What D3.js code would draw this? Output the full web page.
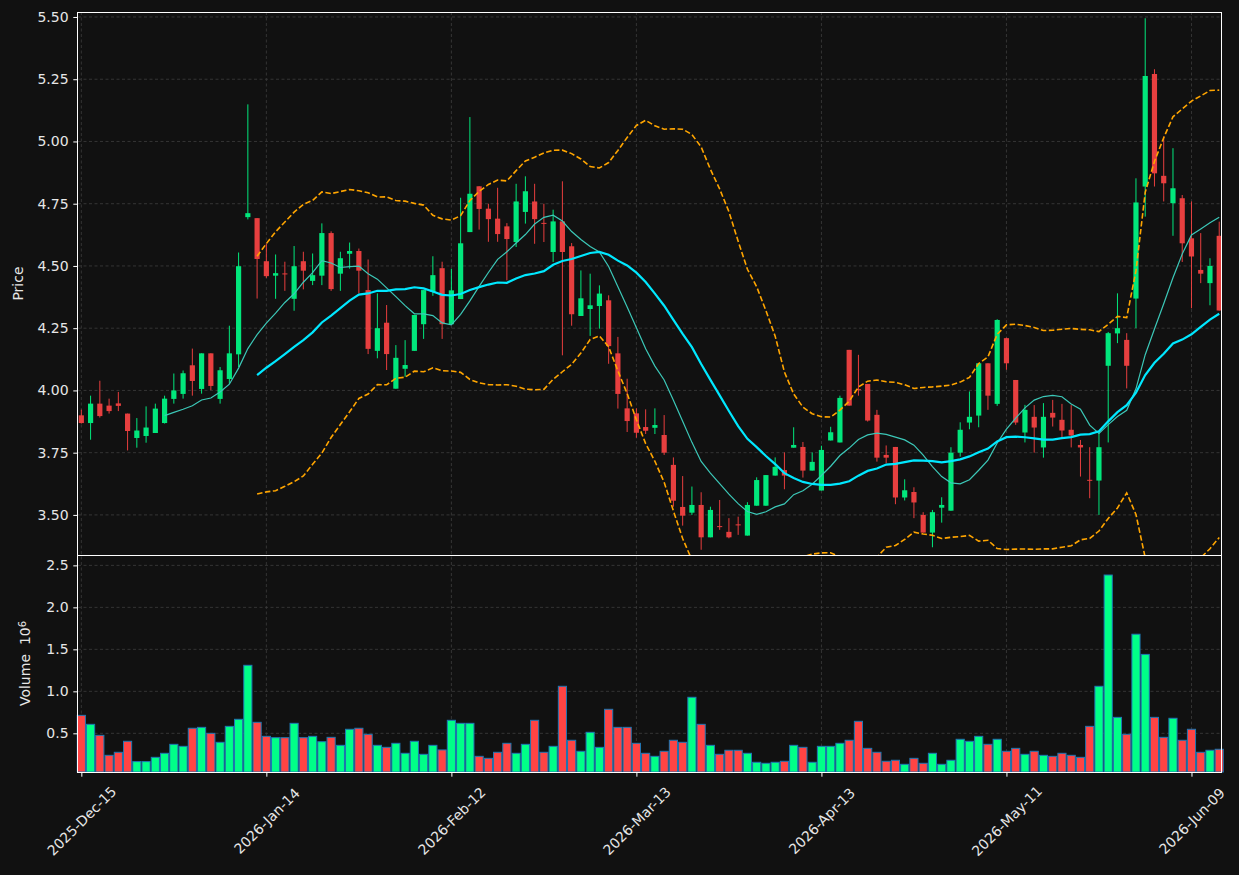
<!DOCTYPE html>
<html>
<head>
<meta charset="utf-8">
<script src="https://cdn.jsdelivr.net/npm/d3@7"></script>
<style>
    body { margin: 0; background: #111111; }
    svg { display: block; font-family: "DejaVu Sans", sans-serif; }
</style>
</head>
<body>
<svg id="drawing_region"></svg>
<script>
const dates = [
    "2025-12-15", "2025-12-16", "2025-12-17", "2025-12-18", "2025-12-19", "2025-12-22", "2025-12-23", "2025-12-24", "2025-12-26", "2025-12-29",
    "2025-12-30", "2025-12-31", "2026-01-02", "2026-01-05", "2026-01-06", "2026-01-07", "2026-01-08", "2026-01-09", "2026-01-12", "2026-01-13",
    "2026-01-14", "2026-01-15", "2026-01-16", "2026-01-20", "2026-01-21", "2026-01-22", "2026-01-23", "2026-01-26", "2026-01-27", "2026-01-28",
    "2026-01-29", "2026-01-30", "2026-02-02", "2026-02-03", "2026-02-04", "2026-02-05", "2026-02-06", "2026-02-09", "2026-02-10", "2026-02-11",
    "2026-02-12", "2026-02-13", "2026-02-17", "2026-02-18", "2026-02-19", "2026-02-20", "2026-02-23", "2026-02-24", "2026-02-25", "2026-02-26",
    "2026-02-27", "2026-03-02", "2026-03-03", "2026-03-04", "2026-03-05", "2026-03-06", "2026-03-09", "2026-03-10", "2026-03-11", "2026-03-12",
    "2026-03-13", "2026-03-16", "2026-03-17", "2026-03-18", "2026-03-19", "2026-03-20", "2026-03-23", "2026-03-24", "2026-03-25", "2026-03-26",
    "2026-03-27", "2026-03-30", "2026-03-31", "2026-04-01", "2026-04-02", "2026-04-06", "2026-04-07", "2026-04-08", "2026-04-09", "2026-04-10",
    "2026-04-13", "2026-04-14", "2026-04-15", "2026-04-16", "2026-04-17", "2026-04-20", "2026-04-21", "2026-04-22", "2026-04-23", "2026-04-24",
    "2026-04-27", "2026-04-28", "2026-04-29", "2026-04-30", "2026-05-01", "2026-05-04", "2026-05-05", "2026-05-06", "2026-05-07", "2026-05-08",
    "2026-05-11", "2026-05-12", "2026-05-13", "2026-05-14", "2026-05-15", "2026-05-18", "2026-05-19", "2026-05-20", "2026-05-21", "2026-05-22",
    "2026-05-26", "2026-05-27", "2026-05-28", "2026-05-29", "2026-06-01", "2026-06-02", "2026-06-03", "2026-06-04", "2026-06-05", "2026-06-08",
    "2026-06-09", "2026-06-10", "2026-06-11", "2026-06-12"
];

const opens = [
    3.900, 3.869, 3.947, 3.939, 3.948, 3.907, 3.809, 3.817, 3.829, 3.869,
    3.966, 3.986, 4.101, 4.006, 4.149, 3.966, 4.046, 4.145, 4.696, 4.692,
    4.519, 4.461, 4.470, 4.368, 4.519, 4.440, 4.461, 4.632, 4.469, 4.549,
    4.560, 4.403, 4.159, 4.272, 4.007, 4.087, 4.159, 4.266, 4.396, 4.491,
    4.266, 4.367, 4.636, 4.820, 4.730, 4.690, 4.659, 4.596, 4.717, 4.759,
    4.673, 4.556, 4.679, 4.579, 4.299, 4.327, 4.339, 4.362, 4.149, 3.928,
    3.908, 3.853, 3.850, 3.821, 3.701, 3.532, 3.509, 3.540, 3.410, 3.455,
    3.432, 3.462, 3.417, 3.537, 3.537, 3.658, 3.680, 3.770, 3.773, 3.678,
    3.598, 3.799, 3.791, 4.163, 4.005, 4.026, 3.902, 3.741, 3.773, 3.570,
    3.592, 3.500, 3.429, 3.529, 3.517, 3.750, 3.871, 3.899, 4.109, 3.946,
    4.210, 4.042, 3.831, 3.894, 3.771, 3.910, 3.882, 3.842, 3.781, 3.641,
    3.638, 4.099, 4.229, 4.203, 4.369, 4.819, 5.271, 4.862, 4.752, 4.772,
    4.611, 4.484, 4.431, 4.621
];

const highs = [
    3.923, 3.979, 4.039, 3.967, 3.994, 3.907, 3.889, 3.936, 3.947, 3.979,
    4.068, 4.080, 4.168, 4.149, 4.149, 4.094, 4.260, 4.554, 5.149, 4.692,
    4.590, 4.546, 4.517, 4.580, 4.557, 4.550, 4.671, 4.639, 4.557, 4.594,
    4.570, 4.526, 4.390, 4.343, 4.182, 4.202, 4.303, 4.403, 4.539, 4.517,
    4.489, 4.774, 5.098, 4.820, 4.750, 4.814, 4.672, 4.830, 4.860, 4.830,
    4.750, 4.726, 4.840, 4.592, 4.482, 4.469, 4.422, 4.382, 4.215, 4.047,
    3.928, 3.924, 3.928, 3.901, 3.731, 3.656, 3.614, 3.591, 3.533, 3.560,
    3.487, 3.493, 3.551, 3.651, 3.660, 3.731, 3.751, 3.852, 3.793, 3.751,
    3.778, 3.854, 3.979, 4.163, 4.143, 4.026, 3.922, 3.779, 3.773, 3.643,
    3.611, 3.511, 3.520, 3.571, 3.772, 3.872, 3.996, 4.109, 4.109, 4.286,
    4.212, 4.042, 3.942, 3.941, 3.949, 3.962, 3.946, 3.941, 3.801, 3.772,
    3.831, 4.235, 4.390, 4.230, 4.852, 5.495, 5.290, 5.020, 4.973, 4.785,
    4.759, 4.632, 4.531, 4.678
];

const lows = [
    3.867, 3.802, 3.891, 3.907, 3.917, 3.759, 3.770, 3.790, 3.829, 3.867,
    3.947, 3.967, 3.979, 3.987, 4.001, 3.947, 4.027, 4.094, 4.687, 4.369,
    4.452, 4.368, 4.400, 4.320, 4.406, 4.423, 4.423, 4.400, 4.400, 4.489,
    4.390, 4.146, 4.129, 4.082, 4.007, 4.055, 4.159, 4.207, 4.380, 4.207,
    4.265, 4.367, 4.636, 4.646, 4.597, 4.597, 4.442, 4.576, 4.670, 4.589,
    4.596, 4.516, 4.141, 4.260, 4.299, 4.219, 4.248, 4.107, 3.927, 3.833,
    3.810, 3.825, 3.825, 3.741, 3.533, 3.457, 3.500, 3.360, 3.410, 3.440,
    3.406, 3.420, 3.417, 3.537, 3.537, 3.658, 3.603, 3.770, 3.650, 3.678,
    3.598, 3.799, 3.791, 3.939, 3.979, 3.875, 3.714, 3.708, 3.543, 3.558,
    3.487, 3.429, 3.370, 3.469, 3.517, 3.734, 3.844, 3.852, 3.922, 3.938,
    4.083, 3.862, 3.791, 3.750, 3.730, 3.855, 3.811, 3.771, 3.654, 3.567,
    3.500, 3.791, 4.190, 4.008, 4.250, 4.698, 4.819, 4.759, 4.621, 4.516,
    4.330, 4.431, 4.342, 4.321
];

const closes = [
    3.869, 3.947, 3.897, 3.917, 3.938, 3.837, 3.839, 3.851, 3.927, 3.967,
    4.000, 4.069, 4.038, 4.149, 4.018, 4.081, 4.149, 4.499, 4.712, 4.528,
    4.459, 4.471, 4.467, 4.499, 4.481, 4.463, 4.632, 4.407, 4.531, 4.560,
    4.481, 4.167, 4.250, 4.146, 4.131, 4.102, 4.303, 4.403, 4.463, 4.266,
    4.402, 4.591, 4.790, 4.729, 4.688, 4.628, 4.608, 4.759, 4.800, 4.688,
    4.670, 4.679, 4.556, 4.306, 4.370, 4.342, 4.389, 4.178, 3.986, 3.877,
    3.830, 3.838, 3.861, 3.750, 3.557, 3.497, 3.540, 3.410, 3.520, 3.451,
    3.410, 3.459, 3.540, 3.640, 3.660, 3.693, 3.658, 3.781, 3.678, 3.713,
    3.761, 3.832, 3.970, 3.939, 4.002, 3.879, 3.730, 3.730, 3.570, 3.599,
    3.550, 3.429, 3.511, 3.540, 3.750, 3.842, 3.894, 4.109, 3.979, 4.283,
    4.109, 3.871, 3.922, 3.851, 3.894, 3.891, 3.839, 3.819, 3.771, 3.638,
    3.772, 4.230, 4.250, 4.099, 4.755, 5.263, 4.872, 4.832, 4.812, 4.591,
    4.538, 4.469, 4.500, 4.321
];

// volume in millions
const volumes = [
    0.714, 0.607, 0.476, 0.238, 0.274, 0.405, 0.163, 0.163, 0.214, 0.262,
    0.369, 0.345, 0.560, 0.571, 0.500, 0.393, 0.583, 0.667, 1.310, 0.631,
    0.464, 0.448, 0.448, 0.619, 0.448, 0.464, 0.400, 0.452, 0.357, 0.548,
    0.560, 0.488, 0.357, 0.333, 0.381, 0.262, 0.405, 0.250, 0.357, 0.302,
    0.655, 0.619, 0.619, 0.226, 0.202, 0.274, 0.381, 0.262, 0.369, 0.655,
    0.274, 0.345, 1.060, 0.417, 0.286, 0.512, 0.333, 0.786, 0.571, 0.571,
    0.381, 0.262, 0.226, 0.286, 0.417, 0.393, 0.929, 0.607, 0.357, 0.250,
    0.298, 0.298, 0.262, 0.155, 0.143, 0.155, 0.167, 0.357, 0.333, 0.155,
    0.345, 0.345, 0.381, 0.417, 0.643, 0.321, 0.274, 0.167, 0.179, 0.131,
    0.202, 0.143, 0.262, 0.131, 0.179, 0.429, 0.405, 0.464, 0.369, 0.429,
    0.286, 0.321, 0.250, 0.286, 0.238, 0.226, 0.262, 0.238, 0.214, 0.583,
    1.060, 2.385, 0.690, 0.488, 1.680, 1.440, 0.690, 0.452, 0.679, 0.417,
    0.548, 0.274, 0.298, 0.310
];

const priceTicks = [3.50, 3.75, 4.00, 4.25, 4.50, 4.75, 5.00, 5.25, 5.50];
const volumeTicks = [0.5, 1.0, 1.5, 2.0, 2.5];
const xTickIndex = [0, 20, 40, 60, 80, 100, 120];

const config = {
    parent: '#drawing_region',
    width: 1239,
    height: 875,
    margin: { top: 12, right: 17, bottom: 103, left: 78 },
    main_height: 543,
    price_domain: [3.339, 5.52],
    ma_short: 10,
    ma_long: 20,
    band_k: 2
};

class CandleChart {

    constructor(config) {
        this.config = config;
        this.data = dates.map((d, i) => ({
            i: i, date: d, open: opens[i], high: highs[i], low: lows[i], close: closes[i], volume: volumes[i]
        }));
        this.init();
    }

    init() {
        let self = this;
        const c = self.config;

        self.svg = d3.select(c.parent)
            .attr('width', c.width)
            .attr('height', c.height);

        self.left = c.margin.left;
        self.right = c.width - c.margin.right;
        self.top = c.margin.top;
        self.mid = c.margin.top + c.main_height;
        self.bottom = c.height - c.margin.bottom;

        self.xscale = d3.scaleLinear()
            .domain([-0.36, self.data.length - 0.7])
            .range([self.left, self.right]);
        self.step = self.xscale(1) - self.xscale(0);

        self.yscale = d3.scaleLinear()
            .domain(c.price_domain)
            .range([self.mid, self.top]);

        const vmin = d3.min(self.data, d => d.volume);
        const vmax = d3.max(self.data, d => d.volume);
        self.vscale = d3.scaleLinear()
            .domain([0.3 * vmin, 1.1 * vmax])
            .range([self.bottom, self.mid]);

        self.svg.append('defs').append('clipPath')
            .attr('id', 'clip-main')
            .append('rect')
            .attr('x', self.left).attr('y', self.top)
            .attr('width', self.right - self.left).attr('height', self.mid - self.top);
    }

    update() {
        let self = this;
        const c = self.config;
        const rolling = (n, fn) => self.data.map((d, i) => {
            if (i < n - 1) return null;
            return fn(closes.slice(i - n + 1, i + 1));
        });
        self.maShort = rolling(c.ma_short, w => d3.mean(w));
        self.maLong = rolling(c.ma_long, w => d3.mean(w));
        // population std for the bands
        const sd = rolling(c.ma_long, w => d3.deviation(w) * Math.sqrt((w.length - 1) / w.length));
        self.upper = self.maLong.map((m, i) => m === null ? null : m + c.band_k * sd[i]);
        self.lower = self.maLong.map((m, i) => m === null ? null : m - c.band_k * sd[i]);
        self.render();
    }

    render() {
        let self = this;
        const up = '#00ff88', down = '#ff4444';
        const gridColor = '#3d3d3d';
        const textColor = '#e6e6e6';

        // grid
        const grid = self.svg.append('g')
            .attr('stroke', gridColor)
            .attr('stroke-width', 0.8)
            .attr('stroke-dasharray', '3,2.5');
        grid.selectAll('.gx')
            .data(xTickIndex)
            .join('line')
            .attr('x1', d => self.xscale(d)).attr('x2', d => self.xscale(d))
            .attr('y1', self.top).attr('y2', self.bottom);
        grid.selectAll('.gy')
            .data(priceTicks)
            .join('line')
            .attr('x1', self.left).attr('x2', self.right)
            .attr('y1', d => self.yscale(d)).attr('y2', d => self.yscale(d));
        grid.selectAll('.gv')
            .data(volumeTicks)
            .join('line')
            .attr('x1', self.left).attr('x2', self.right)
            .attr('y1', d => self.vscale(d)).attr('y2', d => self.vscale(d));

        // candles
        const candles = self.svg.append('g')
            .attr('clip-path', 'url(#clip-main)')
            .attr('opacity', 0.9);
        const bodyW = self.step * 0.56;

        candles.selectAll('line')
            .data(self.data)
            .join('line')
            .attr('x1', d => self.xscale(d.i)).attr('x2', d => self.xscale(d.i))
            .attr('y1', d => self.yscale(d.high)).attr('y2', d => self.yscale(d.low))
            .attr('stroke', d => d.close >= d.open ? up : down)
            .attr('stroke-width', 1);

        candles.selectAll('rect')
            .data(self.data)
            .join('rect')
            .attr('x', d => self.xscale(d.i) - bodyW / 2)
            .attr('width', bodyW)
            .attr('y', d => self.yscale(Math.max(d.open, d.close)))
            .attr('height', d => Math.max(1, Math.abs(self.yscale(d.open) - self.yscale(d.close))))
            .attr('fill', d => d.close >= d.open ? up : down);

        // moving averages and bands
        const lines = self.svg.append('g')
            .attr('clip-path', 'url(#clip-main)')
            .attr('fill', 'none');
        const lineGen = d3.line()
            .defined(d => d !== null)
            .x((d, i) => self.xscale(i))
            .y(d => self.yscale(d));

        lines.append('path')
            .attr('d', lineGen(self.maShort))
            .attr('stroke', '#3cc8b8')
            .attr('stroke-width', 1.2);
        lines.append('path')
            .attr('d', lineGen(self.maLong))
            .attr('stroke', '#00e8ff')
            .attr('stroke-width', 2.2);
        [self.upper, self.lower].forEach(band => {
            lines.append('path')
                .attr('d', lineGen(band))
                .attr('stroke', '#ffa500')
                .attr('stroke-width', 1.6)
                .attr('stroke-dasharray', '5.5,2.5');
        });

        // volume
        const volW = self.step * 0.88;
        self.svg.append('g')
            .selectAll('rect')
            .data(self.data)
            .join('rect')
            .attr('x', d => self.xscale(d.i) - volW / 2)
            .attr('width', volW)
            .attr('y', d => self.vscale(d.volume))
            .attr('height', d => self.bottom - self.vscale(d.volume))
            .attr('fill', d => d.close >= d.open ? up : down)
            .attr('stroke', '#1f77b4')
            .attr('stroke-width', 1);

        // frames
        const frame = self.svg.append('g')
            .attr('fill', 'none')
            .attr('stroke', '#ffffff')
            .attr('stroke-width', 1)
            .attr('shape-rendering', 'crispEdges');
        frame.append('rect')
            .attr('x', self.left - 0.5).attr('y', self.top)
            .attr('width', self.right - self.left).attr('height', self.mid - self.top);
        frame.append('rect')
            .attr('x', self.left - 0.5).attr('y', self.mid)
            .attr('width', self.right - self.left).attr('height', self.bottom - self.mid);

        // axes
        const styleAxis = g => {
            g.select('.domain').remove();
            g.selectAll('.tick line').attr('stroke', '#ffffff');
            g.selectAll('.tick text')
                .attr('fill', textColor)
                .style('font-size', '14px')
                .style('font-family', '"DejaVu Sans", sans-serif');
        };

        self.svg.append('g')
            .attr('transform', `translate(${self.left}, 0)`)
            .call(d3.axisLeft(self.yscale).tickValues(priceTicks).tickFormat(d3.format('.2f')).tickSize(4.7).tickPadding(4.7))
            .call(styleAxis);

        self.svg.append('g')
            .attr('transform', `translate(${self.left}, 0)`)
            .call(d3.axisLeft(self.vscale).tickValues(volumeTicks).tickFormat(d3.format('.1f')).tickSize(4.7).tickPadding(4.7))
            .call(styleAxis);

        const parse = d3.timeParse('%Y-%m-%d');
        const fmt = d3.timeFormat('%Y-%b-%d');
        self.svg.append('g')
            .attr('transform', `translate(0, ${self.bottom})`)
            .call(d3.axisBottom(self.xscale).tickValues(xTickIndex).tickFormat(i => fmt(parse(dates[i]))).tickSize(4.7))
            .call(styleAxis)
            .selectAll('.tick text')
            .attr('x', 0).attr('y', 0).attr('dy', '0.35em')
            .attr('text-anchor', 'middle')
            .attr('transform', 'translate(0, 49) rotate(-45)');

        // axis labels
        self.svg.append('text')
            .attr('transform', `translate(23, ${(self.top + self.mid) / 2}) rotate(-90)`)
            .attr('text-anchor', 'middle')
            .attr('fill', textColor)
            .style('font-size', '14px')
            .text('Price');

        const vlab = self.svg.append('text')
            .attr('transform', `translate(30, ${(self.mid + self.bottom) / 2}) rotate(-90)`)
            .attr('text-anchor', 'middle')
            .attr('fill', textColor)
            .style('font-size', '14px');
        vlab.append('tspan').text('Volume\u00a0\u00a010');
        vlab.append('tspan').attr('dy', '-0.45em').style('font-size', '10px').text('6');
    }
}

const chart = new CandleChart(config);
chart.update();
</script>
</body>
</html>
